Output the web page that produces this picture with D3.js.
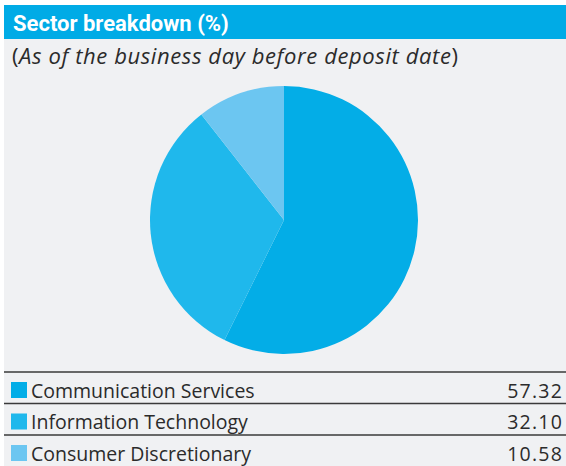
<!DOCTYPE html>
<html>
<head>
<meta charset="utf-8">
<script src="https://cdn.jsdelivr.net/npm/d3@7"></script>
<style>
  html, body { margin: 0; padding: 0; background: #ffffff; }
  svg { display: block; font-family: "Open Sans", "DejaVu Sans", sans-serif; }
</style>
</head>
<body>
<svg id="chart" width="566" height="466"></svg>
<script>
// data
const sectors = ["Communication Services", "Information Technology", "Consumer Discretionary"];
const weights = [57.32, 32.10, 10.58];
const colours = ["#03ade7", "#1fb8ec", "#6cc6f1"];

const svg = d3.select("#chart");
const W = 566, H = 466;

// panel background
svg.append("rect")
    .attr("x", 4).attr("y", 5)
    .attr("width", W - 4).attr("height", H - 5)
    .style("fill", "#f0f1f3");

// header bar
svg.append("rect")
    .attr("x", 4).attr("y", 5)
    .attr("width", W - 4).attr("height", 34)
    .style("fill", "#00abe6");

svg.append("text")
    .attr("x", 13).attr("y", 31)
    .style("font-family", "Roboto, sans-serif")
    .style("font-size", "22px")
    .style("font-weight", "bold")
    .style("fill", "#ffffff")
    .text("Sector breakdown (%)");

const sub = svg.append("text")
    .attr("x", 12).attr("y", 64)
    .style("font-size", "22px")
    .style("letter-spacing", "0.6px")
    .style("fill", "#2b2b2b");
sub.append("tspan").text("(");
sub.append("tspan").style("font-style", "italic").text("As of the business day before deposit date");
sub.append("tspan").text(")");

// pie
const data = sectors.map((s, i) => ({ sector: s, value: weights[i], colour: colours[i] }));
const pie = d3.pie().value(d => d.value).sort(null);
const arc = d3.arc().innerRadius(0).outerRadius(134);

svg.append("g")
    .attr("transform", "translate(284,220)")
    .selectAll("path")
    .data(pie(data))
    .enter()
    .append("path")
    .attr("d", arc)
    .style("fill", d => d.data.colour);

// table below
const rowY = d3.scaleBand()
    .domain(sectors)
    .range([373, 467.5])
    .paddingInner(0);

const rows = svg.append("g").selectAll(".row")
    .data(data)
    .enter()
    .append("g")
    .attr("class", "row")
    .attr("transform", d => `translate(0,${rowY(d.sector)})`);

rows.append("line")
    .attr("x1", 4).attr("x2", W)
    .attr("y1", -1).attr("y2", -1)
    .style("stroke", "#3a3a3a")
    .style("stroke-width", 1.5);

rows.append("rect")
    .attr("x", 11).attr("y", 9)
    .attr("width", 16).attr("height", 16)
    .style("fill", d => d.colour);

rows.append("text")
    .attr("x", 31).attr("y", 24.5)
    .style("font-size", "19.5px")
    .style("fill", "#2b2b2b")
    .text(d => d.sector);

rows.append("text")
    .attr("x", 563).attr("y", 24.5)
    .attr("text-anchor", "end")
    .style("font-size", "19.5px")
    .style("letter-spacing", "1.2px")
    .style("fill", "#2b2b2b")
    .text(d => d3.format(".2f")(d.value));
</script>
</body>
</html>
